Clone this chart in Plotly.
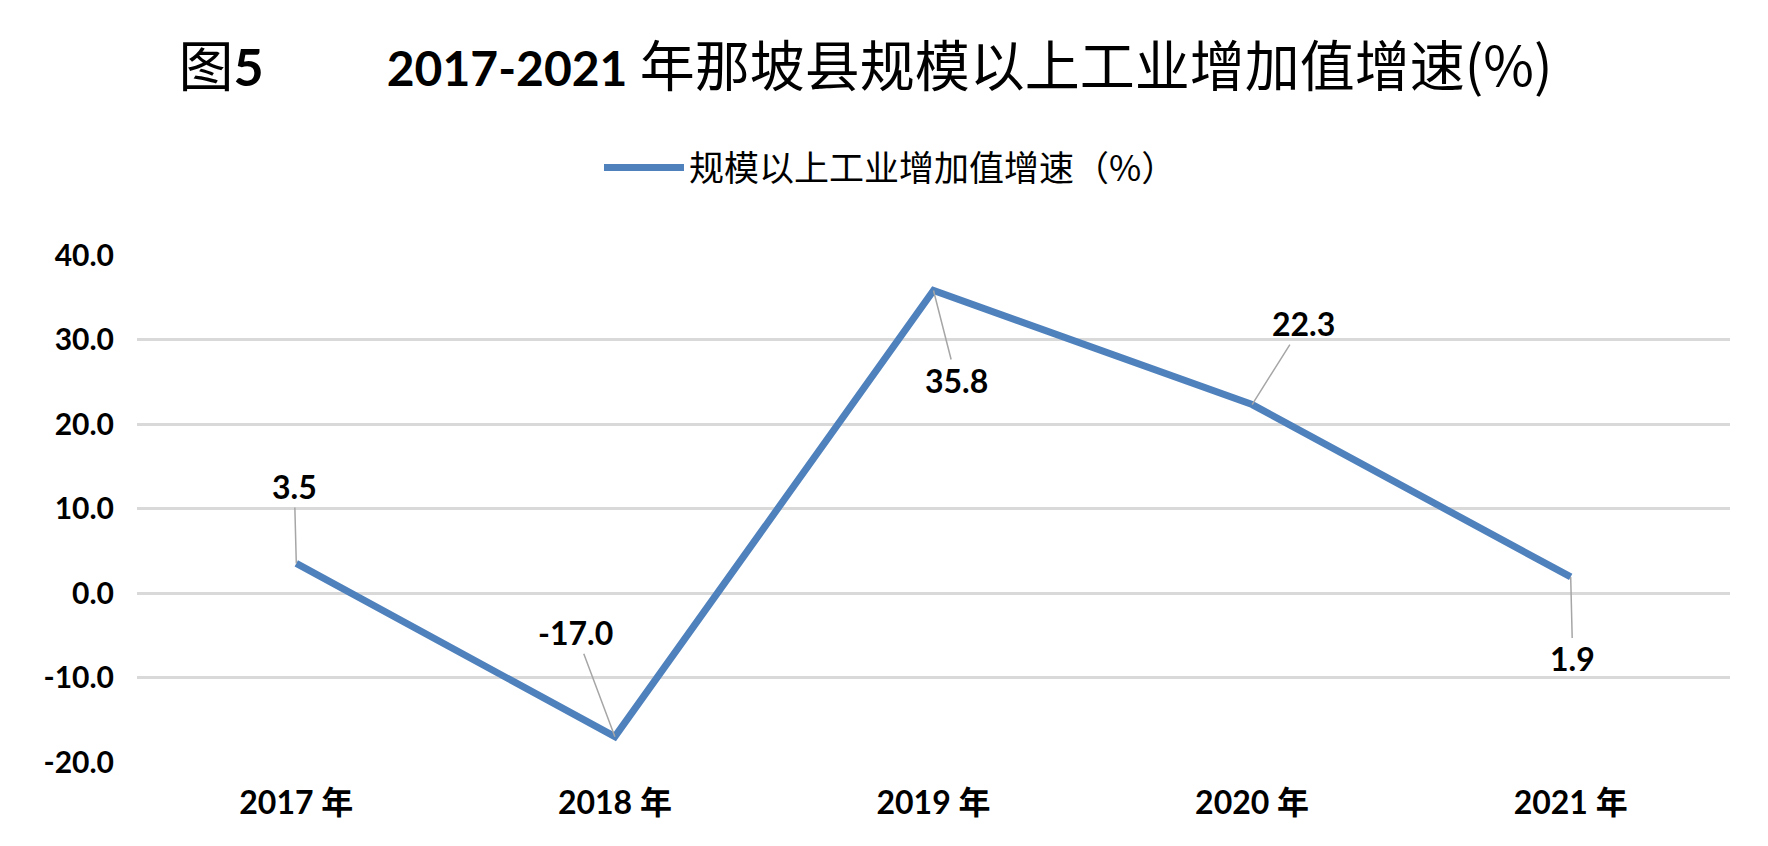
import plotly.graph_objects as go

# data
years = ["2017 年", "2018 年", "2019 年", "2020 年", "2021 年"]
growth = [3.5, -17.0, 35.8, 22.3, 1.9]
label_text = ["3.5", "-17.0", "35.8", "22.3", "1.9"]
# offsets of the data labels from their points (pixels)
label_dx = [-2, -39, 23, 51, 2]
label_dy = [-77, -104, 90, -81, 82]

y_ticks = [-20, -10, 0, 10, 20, 30, 40]
y_tick_labels = ["-20.0", "-10.0", "0.0", "10.0", "20.0", "30.0", "40.0"]

BLUE = "#4F81BD"
GRID = "#D9D9D9"
NUM_FONT = "Lato, 'Noto Sans CJK SC', sans-serif"
CJK_FONT = "'Noto Sans CJK SC', sans-serif"

fig = go.Figure()
fig.add_trace(go.Scatter(
    x=years,
    y=growth,
    mode="lines",
    name="规模以上工业增加值增速（%）",
    line=dict(color=BLUE, width=7),
))

# data labels with grey leader lines
for x, y, t, dx, dy in zip(years, growth, label_text, label_dx, label_dy):
    fig.add_annotation(
        x=x, y=y, text=f"<b>{t}</b>",
        showarrow=True, arrowhead=0, arrowwidth=1.5, arrowcolor="#A6A6A6",
        ax=dx, ay=dy, standoff=0,
        font=dict(family=NUM_FONT, size=32, color="black"),
    )

title_txt = (
    "图<b><span style='font-family:Lato;font-size:52px'>5</span></b>"
    + "&nbsp;" * 10
    + "<b><span style='font-family:Lato;font-size:48px'>2017-2021</span></b> "
    + "年那坡县规模以上工业增加值增速(%)"
)

fig.update_layout(
    width=1768,
    height=846,
    paper_bgcolor="white",
    plot_bgcolor="white",
    margin=dict(l=129, r=46, t=247, b=92),
    title=dict(
        text=title_txt,
        x=0.485, xanchor="center", y=0.93, yanchor="middle",
        font=dict(family=CJK_FONT, size=55, color="black"),
    ),
    showlegend=True,
    legend=dict(
        orientation="h", x=0.473, xanchor="center", y=1.172, yanchor="middle",
        font=dict(family=CJK_FONT, size=35, color="black"),
        itemwidth=80,
    ),
    xaxis=dict(
        range=[-0.5, 4.5],
        showgrid=False, showline=False, ticks="",
        ticklabelstandoff=19,
        tickfont=dict(family=NUM_FONT, size=32, color="black", weight="bold"),
    ),
    yaxis=dict(
        range=[-20, 40], tickvals=y_ticks, ticktext=y_tick_labels,
        showgrid=True, gridcolor=GRID, gridwidth=2.5,
        zeroline=True, zerolinecolor=GRID, zerolinewidth=2.5,
        showline=False, ticks="", ticklabelstandoff=22,
        tickfont=dict(family=NUM_FONT, size=30, color="black", weight="bold"),
    ),
)

fig.write_html("out.html")
